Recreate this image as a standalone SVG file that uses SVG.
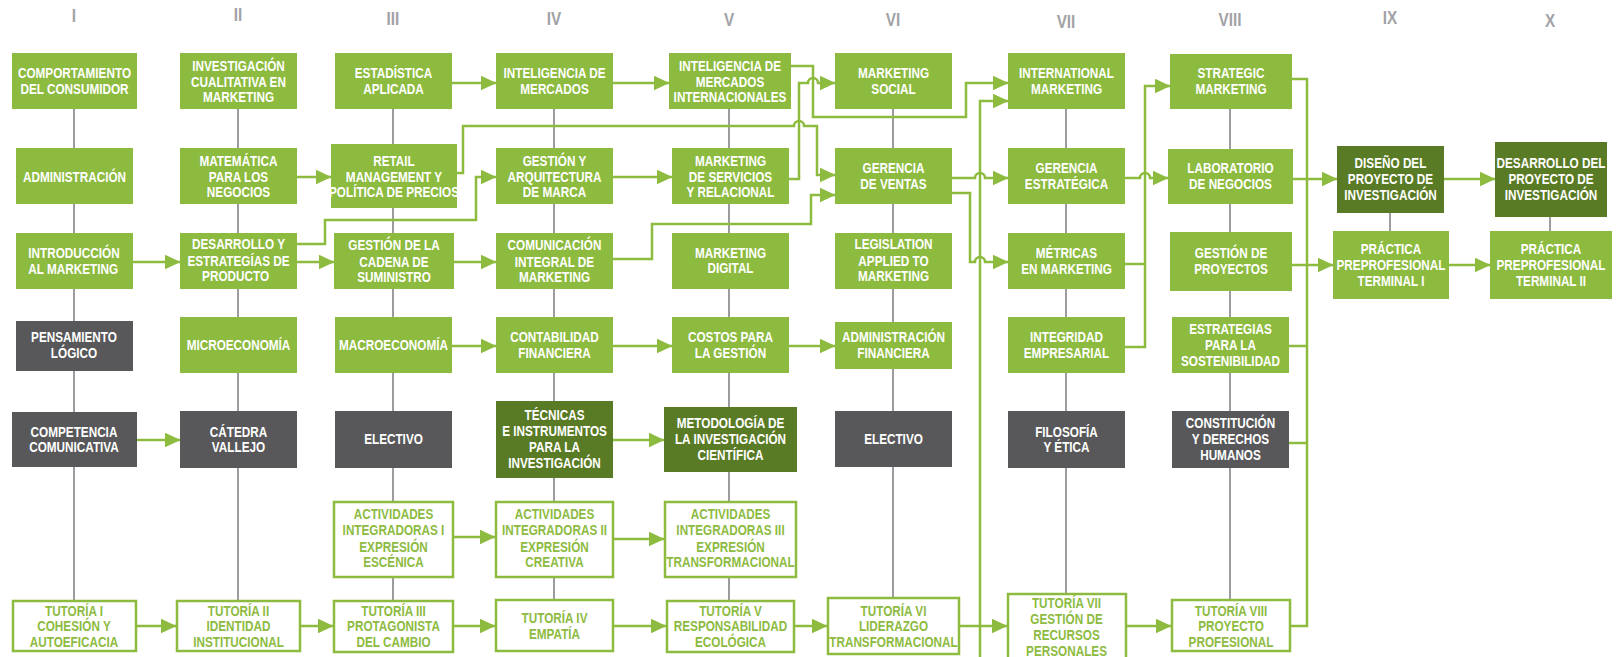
<svg xmlns="http://www.w3.org/2000/svg" width="1616" height="657" viewBox="0 0 1616 657">
<style>
.lg{fill:#8dbb3f}
.dg{fill:#5a7b25}
.gr{fill:#58585a}
.ol{fill:#fff;stroke:#8dbb3f;stroke-width:2.5}
.t{font-family:"Liberation Sans",Arial,sans-serif;font-weight:bold;font-size:14px;fill:#fff;text-anchor:middle;transform:scaleX(0.84);transform-box:fill-box;transform-origin:center}
.tg{fill:#8dbb3f}
.col{font-family:"Liberation Sans",Arial,sans-serif;font-weight:bold;font-size:18px;fill:#a2a2a6;text-anchor:middle;transform:scaleX(0.85);transform-box:fill-box;transform-origin:center}
.gl{stroke:#9c9ca0;stroke-width:2;fill:none}
.c{stroke:#8dbb3f;stroke-width:2.5;fill:none}
.a{marker-end:url(#ah)}
</style>
<defs>
<marker id="ah" markerUnits="userSpaceOnUse" markerWidth="17" markerHeight="16" refX="15.5" refY="7.5" orient="auto"><path d="M0,0 L16,7.5 L0,15 z" fill="#8dbb3f"/></marker>
</defs>
<rect width="1616" height="657" fill="#fff"/>
<g id="semesters">
<text class="col" x="74" y="22">I</text>
<text class="col" x="238" y="21">II</text>
<text class="col" x="393" y="25">III</text>
<text class="col" x="554" y="25">IV</text>
<text class="col" x="729" y="26">V</text>
<text class="col" x="893" y="26">VI</text>
<text class="col" x="1066" y="28">VII</text>
<text class="col" x="1230" y="26">VIII</text>
<text class="col" x="1390" y="24">IX</text>
<text class="col" x="1550" y="27">X</text>
</g>
<g id="column-lines">
<path class="gl" d="M74,109V600M238,109V600M393,109V600M554,109V599M729,109V600M893,109V597M1066,109V593M1230,109V599M1390,213V231M1550,217V231"/>
</g>
<g id="connectors">
<path class="c a" d="M133,262H180"/>
<path class="c a" d="M297,262H334"/>
<path class="c a" d="M297,244H325V220H476V177H496"/>
<path class="c a" d="M297,177H331"/>
<path class="c a" d="M452,83H496"/>
<path class="c a" d="M613,83H669"/>
<path class="c a" d="M613,177H672"/>
<path class="c a" d="M454,262H496"/>
<path class="c a" d="M452,346H496"/>
<path class="c a" d="M613,346H672"/>
<path class="c a" d="M789,346H835"/>
<path class="c a" d="M613,440H664"/>
<path class="c a" d="M137,440H180"/>
<path class="c a" d="M454,537H495"/>
<path class="c a" d="M614,539H664"/>
<path class="c a" d="M137,626H176"/>
<path class="c a" d="M301,626H333"/>
<path class="c a" d="M454,626H495"/>
<path class="c a" d="M614,626H666"/>
<path class="c a" d="M795,626H827"/>
<path class="c a" d="M960,626H1007"/>
<path class="c a" d="M1127,626H1171"/>
<path class="c a" d="M791,66H813V117H966V83H1008"/>
<path class="c a" d="M789,179H799V83H808A5,5 0 0 1 818,83H835"/>
<path class="c a" d="M457,173H463V126H794A5,5 0 0 1 804,126H817V175H835"/>
<path class="c a" d="M613,259H652V224H811V195H835"/>
<path class="c a" d="M952,178H975A5,5 0 0 1 985,178H1008"/>
<path class="c a" d="M952,193H970V262H975A5,5 0 0 1 985,262H1008"/>
<path class="c a" d="M980,657V101H1008"/>
<path class="c a" d="M1125,178H1140A5,5 0 0 1 1150,178H1168"/>
<path class="c" d="M1125,264H1145"/>
<path class="c a" d="M1125,347H1145V86H1170"/>
<path class="c" d="M1292,79H1307V626H1291M1289,346H1307M1289,443H1307"/>
<path class="c a" d="M1293,179H1337"/>
<path class="c a" d="M1292,265H1333"/>
<path class="c a" d="M1444,179H1495"/>
<path class="c a" d="M1449,265H1490"/>
</g>
<g id="n1"><rect class="lg" x="12" y="53" width="125" height="56"/><text class="t"><tspan x="74.5" y="78">COMPORTAMIENTO</tspan><tspan x="74.5" y="94">DEL CONSUMIDOR</tspan></text></g>
<g id="n2"><rect class="lg" x="16" y="148" width="117" height="56"/><text class="t" x="74.5" y="182">ADMINISTRACIÓN</text></g>
<g id="n3"><rect class="lg" x="16" y="233" width="117" height="56"/><text class="t"><tspan x="74" y="258">INTRODUCCIÓN</tspan><tspan x="73" y="274">AL MARKETING</tspan></text></g>
<g id="n4"><rect class="gr" x="16" y="321" width="117" height="50"/><text class="t"><tspan x="74" y="342">PENSAMIENTO</tspan><tspan x="74" y="358">LÓGICO</tspan></text></g>
<g id="n5"><rect class="gr" x="12" y="412" width="125" height="55"/><text class="t"><tspan x="74" y="437">COMPETENCIA</tspan><tspan x="74" y="452">COMUNICATIVA</tspan></text></g>
<g id="n6"><rect class="ol" x="13" y="601" width="123" height="50"/><text class="t tg"><tspan x="74" y="616">TUTORÍA I</tspan><tspan x="74" y="631">COHESIÓN Y</tspan><tspan x="74" y="647">AUTOEFICACIA</tspan></text></g>
<g id="n7"><rect class="lg" x="180" y="53" width="117" height="56"/><text class="t"><tspan x="238.5" y="71">INVESTIGACIÓN</tspan><tspan x="238.5" y="87">CUALITATIVA EN</tspan><tspan x="238.5" y="102">MARKETING</tspan></text></g>
<g id="n8"><rect class="lg" x="180" y="148" width="117" height="56"/><text class="t"><tspan x="238.5" y="166">MATEMÁTICA</tspan><tspan x="238.5" y="182">PARA LOS</tspan><tspan x="238.5" y="197">NEGOCIOS</tspan></text></g>
<g id="n9"><rect class="lg" x="180" y="233" width="117" height="56"/><text class="t"><tspan x="238.5" y="249">DESARROLLO Y</tspan><tspan x="238.5" y="266">ESTRATEGÍAS DE</tspan><tspan x="235" y="281">PRODUCTO</tspan></text></g>
<g id="n10"><rect class="lg" x="180" y="317" width="117" height="56"/><text class="t" x="238.5" y="350">MICROECONOMÍA</text></g>
<g id="n11"><rect class="gr" x="180" y="411" width="117" height="57"/><text class="t"><tspan x="238.5" y="437">CÁTEDRA</tspan><tspan x="238.5" y="452">VALLEJO</tspan></text></g>
<g id="n12"><rect class="ol" x="177" y="601" width="123" height="50"/><text class="t tg"><tspan x="238.5" y="616">TUTORÍA II</tspan><tspan x="238.5" y="631">IDENTIDAD</tspan><tspan x="238.5" y="647">INSTITUCIONAL</tspan></text></g>
<g id="n13"><rect class="lg" x="335" y="53" width="117" height="56"/><text class="t"><tspan x="393.5" y="78">ESTADÍSTICA</tspan><tspan x="393.5" y="94">APLICADA</tspan></text></g>
<g id="n14"><rect class="lg" x="331" y="144" width="126" height="64"/><text class="t"><tspan x="394" y="166">RETAIL</tspan><tspan x="394" y="182">MANAGEMENT Y</tspan><tspan x="394" y="197">POLÍTICA DE PRECIOS</tspan></text></g>
<g id="n15"><rect class="lg" x="334" y="233" width="120" height="56"/><text class="t"><tspan x="394" y="250">GESTIÓN DE LA</tspan><tspan x="394" y="267">CADENA DE</tspan><tspan x="394" y="282">SUMINISTRO</tspan></text></g>
<g id="n16"><rect class="lg" x="335" y="317" width="117" height="56"/><text class="t" x="393.5" y="350">MACROECONOMÍA</text></g>
<g id="n17"><rect class="gr" x="335" y="411" width="117" height="57"/><text class="t" x="393.5" y="444">ELECTIVO</text></g>
<g id="n18"><rect class="ol" x="334" y="502" width="119" height="75"/><text class="t tg"><tspan x="393.5" y="519">ACTIVIDADES</tspan><tspan x="393.5" y="535">INTEGRADORAS I</tspan><tspan x="393.5" y="552">EXPRESIÓN</tspan><tspan x="393.5" y="567">ESCÉNICA</tspan></text></g>
<g id="n19"><rect class="ol" x="334" y="601" width="119" height="51"/><text class="t tg"><tspan x="393.5" y="616">TUTORÍA III</tspan><tspan x="393.5" y="631">PROTAGONISTA</tspan><tspan x="393.5" y="647">DEL CAMBIO</tspan></text></g>
<g id="n20"><rect class="lg" x="496" y="53" width="117" height="56"/><text class="t"><tspan x="554.5" y="78">INTELIGENCIA DE</tspan><tspan x="554.5" y="94">MERCADOS</tspan></text></g>
<g id="n21"><rect class="lg" x="496" y="148" width="117" height="56"/><text class="t"><tspan x="554.5" y="166">GESTIÓN Y</tspan><tspan x="554.5" y="182">ARQUITECTURA</tspan><tspan x="554.5" y="197">DE MARCA</tspan></text></g>
<g id="n22"><rect class="lg" x="496" y="233" width="117" height="56"/><text class="t"><tspan x="554.5" y="250">COMUNICACIÓN</tspan><tspan x="554.5" y="267">INTEGRAL DE</tspan><tspan x="554.5" y="282">MARKETING</tspan></text></g>
<g id="n23"><rect class="lg" x="496" y="317" width="117" height="56"/><text class="t"><tspan x="554.5" y="342">CONTABILIDAD</tspan><tspan x="554.5" y="358">FINANCIERA</tspan></text></g>
<g id="n24"><rect class="dg" x="496" y="401" width="117" height="77"/><text class="t"><tspan x="554.5" y="420">TÉCNICAS</tspan><tspan x="554.5" y="436">E INSTRUMENTOS</tspan><tspan x="554.5" y="452">PARA LA</tspan><tspan x="554.5" y="468">INVESTIGACIÓN</tspan></text></g>
<g id="n25"><rect class="ol" x="496" y="502" width="117" height="75"/><text class="t tg"><tspan x="554.5" y="519">ACTIVIDADES</tspan><tspan x="554.5" y="535">INTEGRADORAS II</tspan><tspan x="554.5" y="552">EXPRESIÓN</tspan><tspan x="554.5" y="567">CREATIVA</tspan></text></g>
<g id="n26"><rect class="ol" x="496" y="600" width="117" height="51"/><text class="t tg"><tspan x="554.5" y="623">TUTORÍA IV</tspan><tspan x="554.5" y="639">EMPATÍA</tspan></text></g>
<g id="n27"><rect class="lg" x="669" y="53" width="122" height="56"/><text class="t"><tspan x="730" y="71">INTELIGENCIA DE</tspan><tspan x="730" y="87">MERCADOS</tspan><tspan x="730" y="102">INTERNACIONALES</tspan></text></g>
<g id="n28"><rect class="lg" x="672" y="148" width="117" height="56"/><text class="t"><tspan x="730.5" y="166">MARKETING</tspan><tspan x="730.5" y="182">DE SERVICIOS</tspan><tspan x="730.5" y="197">Y RELACIONAL</tspan></text></g>
<g id="n29"><rect class="lg" x="672" y="233" width="117" height="56"/><text class="t"><tspan x="730.5" y="258">MARKETING</tspan><tspan x="730.5" y="273">DIGITAL</tspan></text></g>
<g id="n30"><rect class="lg" x="672" y="317" width="117" height="56"/><text class="t"><tspan x="730.5" y="342">COSTOS PARA</tspan><tspan x="730.5" y="358">LA GESTIÓN</tspan></text></g>
<g id="n31"><rect class="dg" x="664" y="407" width="133" height="65"/><text class="t"><tspan x="730.5" y="428">METODOLOGÍA DE</tspan><tspan x="730.5" y="444">LA INVESTIGACIÓN</tspan><tspan x="730.5" y="460">CIENTÍFICA</tspan></text></g>
<g id="n32"><rect class="ol" x="665" y="502" width="131" height="75"/><text class="t tg"><tspan x="730.5" y="519">ACTIVIDADES</tspan><tspan x="730.5" y="535">INTEGRADORAS III</tspan><tspan x="730.5" y="552">EXPRESIÓN</tspan><tspan x="730.5" y="567">TRANSFORMACIONAL</tspan></text></g>
<g id="n33"><rect class="ol" x="667" y="601" width="127" height="51"/><text class="t tg"><tspan x="730.5" y="616">TUTORÍA V</tspan><tspan x="730.5" y="631">RESPONSABILIDAD</tspan><tspan x="730.5" y="647">ECOLÓGICA</tspan></text></g>
<g id="n34"><rect class="lg" x="835" y="53" width="117" height="56"/><text class="t"><tspan x="893.5" y="78">MARKETING</tspan><tspan x="893.5" y="94">SOCIAL</tspan></text></g>
<g id="n35"><rect class="lg" x="835" y="148" width="117" height="56"/><text class="t"><tspan x="893.5" y="173">GERENCIA</tspan><tspan x="893.5" y="189">DE VENTAS</tspan></text></g>
<g id="n36"><rect class="lg" x="835" y="233" width="117" height="56"/><text class="t"><tspan x="893.5" y="249">LEGISLATION</tspan><tspan x="893.5" y="266">APPLIED TO</tspan><tspan x="893.5" y="281">MARKETING</tspan></text></g>
<g id="n37"><rect class="lg" x="835" y="322" width="117" height="47"/><text class="t"><tspan x="893.5" y="342">ADMINISTRACIÓN</tspan><tspan x="893.5" y="358">FINANCIERA</tspan></text></g>
<g id="n38"><rect class="gr" x="835" y="411" width="117" height="56"/><text class="t" x="893.5" y="444">ELECTIVO</text></g>
<g id="n39"><rect class="ol" x="828" y="598" width="131" height="56"/><text class="t tg"><tspan x="893.5" y="616">TUTORÍA VI</tspan><tspan x="893.5" y="631">LIDERAZGO</tspan><tspan x="893.5" y="647">TRANSFORMACIONAL</tspan></text></g>
<g id="n40"><rect class="lg" x="1008" y="53" width="117" height="56"/><text class="t"><tspan x="1066.5" y="78">INTERNATIONAL</tspan><tspan x="1066.5" y="94">MARKETING</tspan></text></g>
<g id="n41"><rect class="lg" x="1008" y="148" width="117" height="56"/><text class="t"><tspan x="1066.5" y="173">GERENCIA</tspan><tspan x="1066.5" y="189">ESTRATÉGICA</tspan></text></g>
<g id="n42"><rect class="lg" x="1008" y="233" width="117" height="56"/><text class="t"><tspan x="1066.5" y="258">MÉTRICAS</tspan><tspan x="1066.5" y="274">EN MARKETING</tspan></text></g>
<g id="n43"><rect class="lg" x="1008" y="317" width="117" height="56"/><text class="t"><tspan x="1066.5" y="342">INTEGRIDAD</tspan><tspan x="1066.5" y="358">EMPRESARIAL</tspan></text></g>
<g id="n44"><rect class="gr" x="1008" y="411" width="117" height="57"/><text class="t"><tspan x="1066.5" y="437">FILOSOFÍA</tspan><tspan x="1066.5" y="452">Y ÉTICA</tspan></text></g>
<g id="n45"><rect class="ol" x="1008" y="594" width="118" height="70"/><text class="t tg"><tspan x="1066.5" y="608">TUTORÍA VII</tspan><tspan x="1066.5" y="624">GESTIÓN DE</tspan><tspan x="1066.5" y="640">RECURSOS</tspan><tspan x="1066.5" y="656">PERSONALES</tspan></text></g>
<g id="n46"><rect class="lg" x="1170" y="54" width="122" height="55"/><text class="t"><tspan x="1231" y="78">STRATEGIC</tspan><tspan x="1231" y="94">MARKETING</tspan></text></g>
<g id="n47"><rect class="lg" x="1168" y="149" width="125" height="55"/><text class="t"><tspan x="1230.5" y="173">LABORATORIO</tspan><tspan x="1230.5" y="189">DE NEGOCIOS</tspan></text></g>
<g id="n48"><rect class="lg" x="1170" y="232" width="122" height="59"/><text class="t"><tspan x="1231" y="258">GESTIÓN DE</tspan><tspan x="1231" y="274">PROYECTOS</tspan></text></g>
<g id="n49"><rect class="lg" x="1172" y="317" width="117" height="56"/><text class="t"><tspan x="1230.5" y="334">ESTRATEGIAS</tspan><tspan x="1230.5" y="350">PARA LA</tspan><tspan x="1230.5" y="366">SOSTENIBILIDAD</tspan></text></g>
<g id="n50"><rect class="gr" x="1172" y="411" width="117" height="57"/><text class="t"><tspan x="1230.5" y="428">CONSTITUCIÓN</tspan><tspan x="1230.5" y="444">Y DERECHOS</tspan><tspan x="1230.5" y="460">HUMANOS</tspan></text></g>
<g id="n51"><rect class="ol" x="1172" y="600" width="118" height="51"/><text class="t tg"><tspan x="1231" y="616">TUTORÍA VIII</tspan><tspan x="1231" y="631">PROYECTO</tspan><tspan x="1231" y="647">PROFESIONAL</tspan></text></g>
<g id="n52"><rect class="dg" x="1337" y="146" width="107" height="67"/><text class="t"><tspan x="1390.5" y="168">DISEÑO DEL</tspan><tspan x="1390.5" y="184">PROYECTO DE</tspan><tspan x="1390.5" y="200">INVESTIGACIÓN</tspan></text></g>
<g id="n53"><rect class="lg" x="1333" y="231" width="116" height="68"/><text class="t"><tspan x="1391" y="254">PRÁCTICA</tspan><tspan x="1391" y="270">PREPROFESIONAL</tspan><tspan x="1391" y="286">TERMINAL I</tspan></text></g>
<g id="n54"><rect class="dg" x="1495" y="142" width="112" height="75"/><text class="t"><tspan x="1551" y="168">DESARROLLO DEL</tspan><tspan x="1551" y="184">PROYECTO DE</tspan><tspan x="1551" y="200">INVESTIGACIÓN</tspan></text></g>
<g id="n55"><rect class="lg" x="1490" y="231" width="122" height="68"/><text class="t"><tspan x="1551" y="254">PRÁCTICA</tspan><tspan x="1551" y="270">PREPROFESIONAL</tspan><tspan x="1551" y="286">TERMINAL II</tspan></text></g>
</svg>
